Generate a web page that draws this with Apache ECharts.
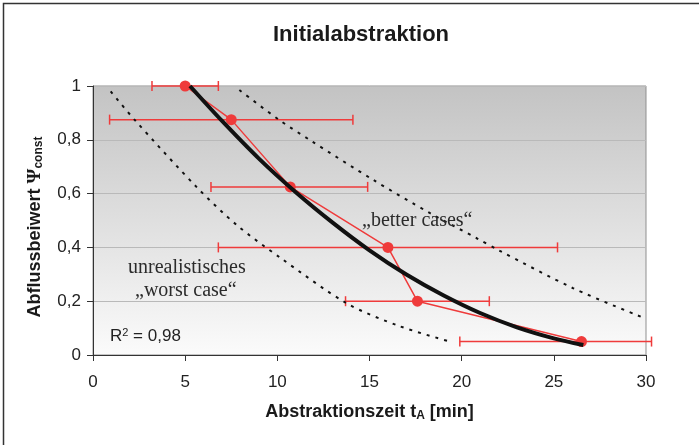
<!DOCTYPE html>
<html>
<head>
<meta charset="utf-8">
<script src="https://cdn.jsdelivr.net/npm/echarts@6/dist/echarts.min.js"></script>
<style>
html,body{margin:0;padding:0;background:#fff;}
#chart{width:699px;height:445px;}
</style>
</head>
<body>
<div id="chart"></div>
<script>
// ---- data ----
const titleText = 'Initialabstraktion';
const xTicks = [0, 5, 10, 15, 20, 25, 30];
const yTickValues = [0, 0.2, 0.4, 0.6, 0.8, 1];
const yTickLabels = ['0', '0,2', '0,4', '0,6', '0,8', '1'];

// observed points with horizontal error range
const obsX = [5, 7.5, 10.7, 16, 17.6, 26.5];
const obsY = [1.0, 0.875, 0.625, 0.4, 0.2, 0.05];
const errLow = [3.2, 0.9, 6.4, 6.8, 13.7, 19.9];
const errHigh = [6.8, 14.1, 14.9, 25.2, 21.5, 30.3];

// fitted curve (black)
const fitX = [5.26, 7, 9, 11, 13, 15, 17, 19, 21, 23, 25, 26.6];
const fitY = [1.0, 0.87, 0.73, 0.605, 0.492, 0.389, 0.299, 0.222, 0.156, 0.103, 0.062, 0.037];

// "worst case" dotted line
const worstX = [0.96, 2.26, 5.64, 7.8, 10.15, 13.77, 16.6, 19.46];
const worstY = [0.98, 0.874, 0.623, 0.483, 0.362, 0.192, 0.108, 0.048];

// "better cases" dotted line
const betterX = [7.94, 10.1, 11.77, 15.2, 18.29, 20.82, 21.99, 26.06, 29.95];
const betterY = [0.985, 0.874, 0.799, 0.651, 0.527, 0.434, 0.39, 0.248, 0.136];

const zip = (a, b) => a.map((v, i) => [v, b[i]]);
const errData = obsX.map((v, i) => [v, obsY[i], errLow[i], errHigh[i]]);

const RED = '#ef3b3b';
const SANS = 'Liberation Sans, Arial';
const chart = echarts.init(document.getElementById('chart'), null, {renderer: 'canvas'});

const option = {
  animation: false,
  backgroundColor: '#fff',
  title: {
    text: titleText,
    left: 356, top: 19, textAlign: 'center',
    textStyle: {fontFamily: SANS, fontWeight: 'bold', fontSize: 22, color: '#1a1a1a'}
  },
  grid: {
    left: 93, right: 53, top: 86, bottom: 90,
    show: true,
    borderColor: '#8f8f8f', borderWidth: 1,
    backgroundColor: {
      type: 'linear', x: 0, y: 0, x2: 0, y2: 1,
      colorStops: [{offset: 0, color: '#c3c3c3'}, {offset: 1, color: '#fbfbfb'}]
    },
    outerBoundsMode: 'none'
  },
  xAxis: {
    type: 'value', min: 0, max: 30, interval: 5,
    axisLine: {show: true, lineStyle: {color: '#333', width: 1}},
    axisTick: {show: true, length: 6, inside: false, lineStyle: {color: '#333'}},
    splitLine: {show: false},
    axisLabel: {
      margin: 19, fontSize: 17, color: '#222', fontFamily: SANS,
      formatter: v => xTicks.indexOf(v) >= 0 ? String(v) : ''
    },
    name: '{b|Abstraktionszeit t}{s|A}{b| [min]}',
    nameLocation: 'middle', nameGap: 47,
    nameTextStyle: {
      rich: {
        b: {fontFamily: SANS, fontWeight: 'bold', fontSize: 18, color: '#1a1a1a'},
        s: {fontFamily: SANS, fontWeight: 'bold', fontSize: 12, color: '#1a1a1a', verticalAlign: 'bottom', padding: [8, 0, 0, 0]}
      }
    }
  },
  yAxis: {
    type: 'value', min: 0, max: 1, interval: 0.2,
    axisLine: {show: true, lineStyle: {color: '#333', width: 1}},
    axisTick: {show: true, length: 6, inside: false, lineStyle: {color: '#333'}},
    splitLine: {show: true, lineStyle: {color: '#b9b9b9', width: 1}},
    axisLabel: {
      margin: 12, fontSize: 17, color: '#222', fontFamily: SANS,
      formatter: v => {
        const i = yTickValues.findIndex(t => Math.abs(t - v) < 1e-6);
        return i >= 0 ? yTickLabels[i] : '';
      }
    }
  },
  series: [
    {
      type: 'custom', name: 'errors', clip: false, z: 2,
      data: errData,
      renderItem: (params, api) => {
        const y = api.value(1);
        const p1 = api.coord([api.value(2), y]);
        const p2 = api.coord([api.value(3), y]);
        const style = {stroke: RED, lineWidth: 1.5};
        return {
          type: 'group',
          children: [
            {type: 'line', shape: {x1: p1[0], y1: p1[1], x2: p2[0], y2: p2[1]}, style},
            {type: 'line', shape: {x1: p1[0], y1: p1[1] - 5, x2: p1[0], y2: p1[1] + 5}, style},
            {type: 'line', shape: {x1: p2[0], y1: p2[1] - 5, x2: p2[0], y2: p2[1] + 5}, style}
          ]
        };
      }
    },
    {
      type: 'line', name: 'worst', data: zip(worstX, worstY), smooth: 0.3,
      symbol: 'none', z: 3,
      lineStyle: {color: '#111', width: 2, type: [3, 6]}
    },
    {
      type: 'line', name: 'better', data: zip(betterX, betterY), smooth: 0.3,
      symbol: 'none', z: 3,
      lineStyle: {color: '#111', width: 2, type: [3, 6]}
    },
    {
      type: 'line', name: 'obs', data: zip(obsX, obsY), smooth: false,
      symbol: 'circle', symbolSize: 11, z: 4,
      itemStyle: {color: RED},
      lineStyle: {color: RED, width: 1.5}
    },
    {
      type: 'line', name: 'fit', data: zip(fitX, fitY), smooth: 0.3,
      symbol: 'none', z: 5,
      lineStyle: {color: '#111', width: 4}
    }
  ],
  graphic: [
    {type: 'rect', shape: {x: 3.5, y: 3.5, width: 800, height: 800},
     style: {fill: 'none', stroke: '#333', lineWidth: 1.5}, silent: true, z: 100},
    {type: 'text', x: 35, y: 227, rotation: Math.PI / 2, z: 50,
     style: {
       text: '{b|Abflussbeiwert }{p|Ψ}{s|const}',
       align: 'center', verticalAlign: 'middle',
       rich: {
         b: {fontFamily: SANS, fontWeight: 'bold', fontSize: 18, fill: '#1a1a1a'},
         p: {fontFamily: 'Liberation Serif, Times New Roman', fontWeight: 'bold', fontSize: 19, fill: '#1a1a1a'},
         s: {fontFamily: SANS, fontWeight: 'bold', fontSize: 12, fill: '#1a1a1a', verticalAlign: 'bottom', padding: [8, 0, 0, 0]}
       }
     }},
    {type: 'text', left: 362, top: 211, z: 50,
     style: {text: '„better cases“', font: '20px "Liberation Serif", "Times New Roman", serif', fill: '#2b2b2b'}},
    {type: 'text', left: 128, top: 258, z: 50,
     style: {text: 'unrealistisches', font: '20px "Liberation Serif", "Times New Roman", serif', fill: '#2b2b2b'}},
    {type: 'text', left: 135, top: 281, z: 50,
     style: {text: '„worst case“', font: '20px "Liberation Serif", "Times New Roman", serif', fill: '#2b2b2b'}},
    {type: 'text', left: 110, top: 327, z: 50,
     style: {
       text: '{a|R}{s|2}{a| = 0,98}',
       rich: {
         a: {fontFamily: SANS, fontSize: 17, fill: '#222'},
         s: {fontFamily: SANS, fontSize: 11, fill: '#222', verticalAlign: 'top', padding: [0, 0, 8, 0]}
       }
     }}
  ]
};
chart.setOption(option);
</script>
</body>
</html>
